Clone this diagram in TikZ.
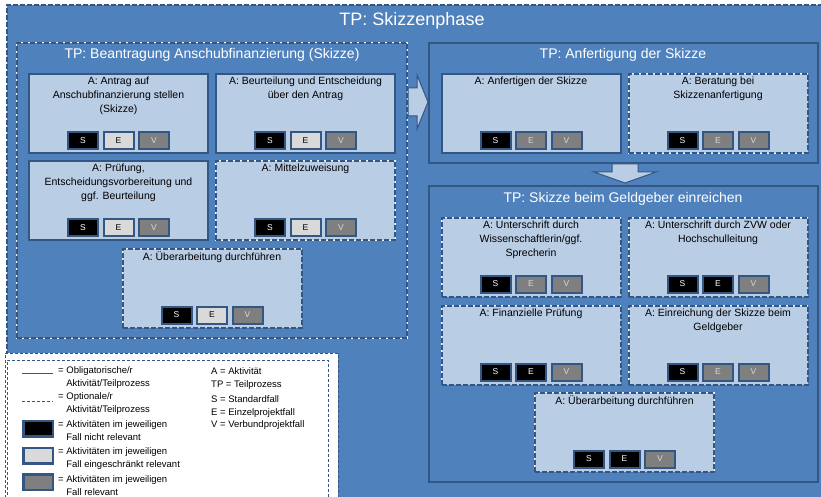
\documentclass[tikz,border=0pt]{standalone}
\usepackage{fontspec}
\setmainfont{Liberation Sans}
\usetikzlibrary{positioning}

\definecolor{tpblue}{HTML}{4F81BD}
\definecolor{tpline}{HTML}{335683}
\definecolor{actfill}{HTML}{B9CDE5}
\definecolor{lgray}{HTML}{D9D9D9}
\definecolor{dgray}{HTML}{7F7F7F}

\tikzset{
  tpbox/.style={draw=tpline, line width=2pt, fill=tpblue, inner sep=0pt},
  optline/.style={preaction={draw=white!85!actfill, solid, line width=1.3pt}, dash pattern=on 5pt off 2pt},
  actbox/.style={draw=tpline, line width=2pt, fill=actfill, inner sep=0pt,
    minimum width=179pt, minimum height=79pt},
  acttext/.style={anchor=north, align=center, inner sep=4pt, font=\fontsize{10.5}{14}\selectfont},
  tptitle/.style={text=white, inner sep=0pt},
  sevbox/.style={draw=tpline, line width=2pt, minimum width=30pt, minimum height=17pt,
    inner sep=0pt, font=\fontsize{8.5}{10}\selectfont},
  sevno/.style={fill=black, text=white},
  sevpart/.style={fill=lgray, text=black},
  sevyes/.style={fill=dgray, text=lgray},
  blockarrow/.style={draw=tpline, line width=1pt, fill=actfill},
  lgtext/.style={anchor=west, align=left, inner sep=0pt, font=\fontsize{9.5}{13}\selectfont},
  lgkey/.style={anchor=base west, inner sep=0pt, font=\fontsize{9.5}{13}\selectfont},
  lgbox/.style={draw=tpline, line width=2.5pt, minimum width=29.5pt, minimum height=15.5pt, inner sep=0pt}
}

% S / E / V markers at the bottom of an activity box
\newcommand{\sev}[4]{%
  \node[sevbox, #3, above=4pt of #1.south] (#1e) {E};
  \node[sevbox, #2, left=3.5pt of #1e] (#1s) {S};
  \node[sevbox, #4, right=3.5pt of #1e] (#1v) {V};
}

\begin{document}
\begin{tikzpicture}[x=1pt, y=-1pt]
  \useasboundingbox (0,0) rectangle (821,497);
  \clip (0,0) rectangle (821,497);
  \fill[white] (0,0) rectangle (821,497);

  \node[tpbox, optline, minimum width=833pt, minimum height=515pt] (phase) at (423.5,262.5) {};
  \node[tptitle, font=\fontsize{18}{20}\selectfont] (phaset) at (412,21) {TP: Skizzenphase};

  % TP: Beantragung Anschubfinanzierung
  \node[tpbox, optline, minimum width=390pt, minimum height=295pt] (tpb) at (212,190.5) {};
  \node[tptitle, font=\fontsize{14}{16}\selectfont] (tpbt) at (212,55) {TP: Beantragung Anschubfinanzierung (Skizze)};

  \node[actbox] (a1) at (118.5,113.5) {};
  \node[acttext] (a1t) at (a1.north) {A: Antrag auf\\Anschubfinanzierung stellen\\(Skizze)};
  \sev{a1}{sevno}{sevpart}{sevyes}
  \node[actbox] (a2) at (305.5,113.5) {};
  \node[acttext] (a2t) at (a2.north) {A: Beurteilung und Entscheidung\\über den Antrag};
  \sev{a2}{sevno}{sevpart}{sevyes}
  \node[actbox] (a3) at (118.5,200.5) {};
  \node[acttext] (a3t) at (a3.north) {A: Prüfung,\\Entscheidungsvorbereitung und\\ggf. Beurteilung};
  \sev{a3}{sevno}{sevpart}{sevyes}
  \node[actbox, optline] (a4) at (305.5,200.5) {};
  \node[acttext] (a4t) at (a4.north) {A: Mittelzuweisung};
  \sev{a4}{sevno}{sevpart}{sevyes}
  \node[actbox, optline] (a5) at (212,288) {};
  \node[acttext] (a5t) at (a5.north) {A: Überarbeitung durchführen};
  \sev{a5}{sevno}{sevpart}{sevyes}

  % TP: Anfertigung der Skizze
  \node[tpbox, minimum width=389pt, minimum height=120pt] (tpa) at (623.5,103) {};
  \node[tptitle, font=\fontsize{14}{16}\selectfont] (tpat) at (623,55) {TP: Anfertigung der Skizze};

  \node[actbox] (b1) at (531,113.5) {};
  \node[acttext] (b1t) at (b1.north) {A: Anfertigen der Skizze};
  \sev{b1}{sevno}{sevyes}{sevyes}
  \node[actbox, optline] (b2) at (718,113.5) {};
  \node[acttext] (b2t) at (b2.north) {A: Beratung bei\\Skizzenanfertigung};
  \sev{b2}{sevno}{sevyes}{sevyes}

  % TP: Skizze beim Geldgeber einreichen
  \node[tpbox, minimum width=389pt, minimum height=296pt] (tpg) at (623.5,334) {};
  \node[tptitle, font=\fontsize{14}{16}\selectfont] (tpgt) at (623,199) {TP: Skizze beim Geldgeber einreichen};

  \node[actbox, optline] (c1) at (531,257) {};
  \node[acttext] (c1t) at (c1.north) {A: Unterschrift durch\\Wissenschaftlerin/ggf.\\Sprecherin};
  \sev{c1}{sevno}{sevyes}{sevyes}
  \node[actbox, optline] (c2) at (718,257) {};
  \node[acttext] (c2t) at (c2.north) {A: Unterschrift durch ZVW oder\\Hochschulleitung};
  \sev{c2}{sevno}{sevno}{sevyes}
  \node[actbox, optline] (c3) at (531,345) {};
  \node[acttext] (c3t) at (c3.north) {A: Finanzielle Prüfung};
  \sev{c3}{sevno}{sevno}{sevyes}
  \node[actbox, optline] (c4) at (718,345) {};
  \node[acttext] (c4t) at (c4.north) {A: Einreichung der Skizze beim\\Geldgeber};
  \sev{c4}{sevno}{sevyes}{sevyes}
  \node[actbox, optline] (c5) at (624.5,432) {};
  \node[acttext] (c5t) at (c5.north) {A: Überarbeitung durchführen};
  \sev{c5}{sevno}{sevno}{sevyes}

  % block arrows
  \draw[blockarrow] (408,88) -- (417,88) -- (417,75) -- (428,102) -- (417,129) -- (417,116) -- (408,116) -- cycle;
  \draw[blockarrow] (612,164) -- (638,164) -- (638,172) -- (656,172) -- (625,183) -- (594,172) -- (612,172) -- cycle;

  % legend
  \node[fill=white, draw=tpline, line width=1pt, dash pattern=on 3pt off 2pt,
    minimum width=333pt, minimum height=157pt, inner sep=0pt] (legend) at (171.5,431.5) {};
  \draw[tpline, line width=1pt, dash pattern=on 3pt off 2pt] (7,510) -- (7,360) -- (328,360) -- (328,510);

  \draw[tpline, line width=1pt] (22,373) -- (53,373);
  \node[lgtext] (l1) at (58,377.5) {= Obligatorische/r\\\hphantom{= }Aktivität/Teilprozess};
  \draw[tpline, line width=1pt, dash pattern=on 3pt off 2pt] (22,401) -- (53,401);
  \node[lgtext] (l2) at (58,404) {= Optionale/r\\\hphantom{= }Aktivität/Teilprozess};
  \node[lgbox, fill=black] (k1) at (38,428.5) {};
  \node[lgtext] (l3) at (58,431) {= Aktivitäten im jeweiligen\\\hphantom{= }Fall nicht relevant};
  \node[lgbox, fill=lgray] (k2) at (38,455.5) {};
  \node[lgtext] (l4) at (58,458.3) {= Aktivitäten im jeweiligen\\\hphantom{= }Fall eingeschränkt relevant};
  \node[lgbox, fill=dgray] (k3) at (38,482) {};
  \node[lgtext] (l5) at (58,485.5) {= Aktivitäten im jeweiligen\\\hphantom{= }Fall relevant};

  \node[lgkey] (r1) at (211,374.4) {A = Aktivität};
  \node[lgkey] (r2) at (211,387.4) {TP = Teilprozess};
  \node[lgkey] (r3) at (211,402.4) {S = Standardfall};
  \node[lgkey] (r4) at (211,415.4) {E = Einzelprojektfall};
  \node[lgkey] (r5) at (211,427.4) {V = Verbundprojektfall};
\end{tikzpicture}
\end{document}
